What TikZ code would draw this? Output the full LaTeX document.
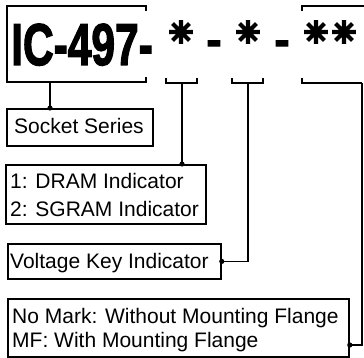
\documentclass[tikz,border=0pt]{standalone}
\usepackage{fontspec}
\setmainfont{Liberation Sans}
\newfontfamily\dejaheavy{DejaVu Sans}[FakeBold=9]
\newfontfamily\heavy{Liberation Sans Bold}[FakeBold=2.5]
\begin{document}
\begin{tikzpicture}[x=1pt,y=-1pt,
  box/.style={draw, line width=1.8pt, inner sep=0pt, anchor=north west},
  txt/.style={anchor=base west, inner sep=0pt, font=\fontsize{21}{24}\selectfont},
  link/.style={line width=1.8pt},
  brk/.style={line width=1.8pt},
  sym/.style={inner sep=0pt, font=\heavy\fontsize{45}{48}\selectfont},
  star/.style={inner sep=0pt, font=\dejaheavy\fontsize{29}{32}\selectfont},
  dot/.style={fill=black}
]
\useasboundingbox (0,0) rectangle (364,358);

% part number
\node[inner sep=0pt, anchor=base west] (code) at (11,65)
  {\scalebox{0.72}[1]{\heavy\fontsize{59}{60}\selectfont IC-497-}};
\node[star] (s1) at (181,32) {✳};
\node[sym, anchor=base] (d1) at (214,55) {-};
\node[star] (s2) at (248,32) {✳};
\node[sym, anchor=base] (d2) at (282,55) {-};
\node[star] (s3) at (316,32) {✳};
\node[star] (s4) at (344,32) {✳};

% brackets
\draw[brk] (146,11) -- (146,6) -- (7,6) -- (7,82) -- (146,82) -- (146,77);
\coordinate (b0) at (50,82);
\draw[brk] (166,78) -- (166,83) -- (197,83) -- (197,78);
\coordinate (b1) at (182,83);
\draw[brk] (232,78) -- (232,83) -- (263,83) -- (263,78);
\coordinate (b2) at (248,83);
\draw[brk] (302,11) -- (302,6) -- (364,6);
\draw[brk] (302,78) -- (302,83) -- (362.1,83);
\coordinate (b3) at (362,83);

% boxes
\node[box, minimum width=146pt, minimum height=37pt] (socket) at (6,108) {};
\node[box, minimum width=200pt, minimum height=59pt] (dram) at (5,164) {};
\node[box, minimum width=213pt, minimum height=35pt] (volt) at (7,243) {};
\node[box, minimum width=341pt, minimum height=58pt] (flange) at (7,298) {};

% texts
\node[txt] (tsocket) at (14,134) {Socket Series};
\node[txt] (tdram1) at (10,189) {1: DRAM Indicator};
\node[txt] (tdram2) at (10,216) {2: SGRAM Indicator};
\node[txt] (tvolt) at (10,268) {Voltage Key Indicator};
\node[txt] (tfl1) at (12,323) {No Mark: Without Mounting Flange};
\node[txt] (tfl2) at (12,347) {MF: With Mounting Flange};

% connectors
\draw[link] (b0) -- (socket.north west -| b0);
\fill[dot] (socket.north west -| b0) circle (2.6pt);
\draw[link] (b1) -- (dram.north west -| b1);
\fill[dot] (dram.north west -| b1) circle (2.6pt);
\coordinate (v1) at (b2 |- volt.east);
\draw[link] (b2) -- (v1) -- (volt.east);
\fill[dot] (volt.east) circle (2.6pt);
\coordinate (f0) at (flange.south east);
\coordinate (f1) at (362,345);
\draw[link] (b3) -- (f1) -- (f0 |- f1);
\fill[dot] (f0 |- f1) circle (2.6pt);
\end{tikzpicture}
\end{document}
